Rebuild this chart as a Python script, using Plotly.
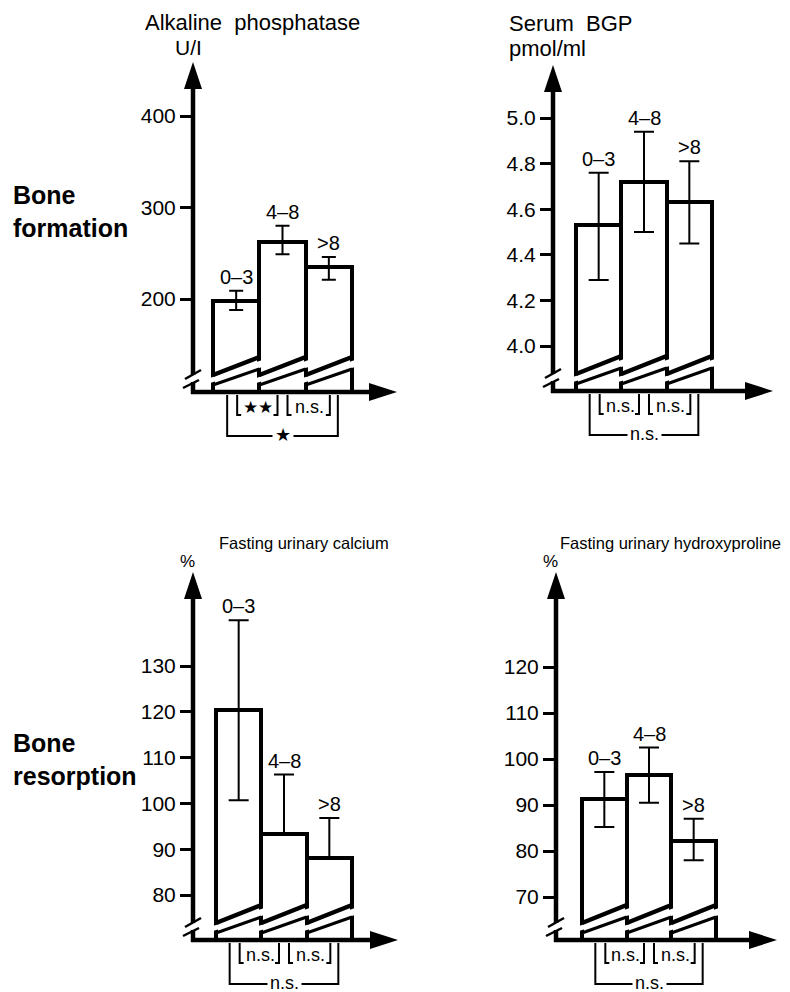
import plotly.graph_objects as go

# page body has an 8px margin: the figure is shifted so global pixel positions match
OFF = 8
W, H = 790 - OFF, 992 - OFF
FONT = "Liberation Sans"

# ---------------- data ----------------
groups = ["0–3", "4–8", ">8"]

alp_values = [198, 262, 235]
alp_plus = [11, 18, 11]
alp_minus = [10, 13, 14]
alp_ticks = [200, 300, 400]

bgp_values = [4.53, 4.72, 4.63]
bgp_plus = [0.23, 0.22, 0.18]
bgp_minus = [0.24, 0.22, 0.18]
bgp_ticks = [4.0, 4.2, 4.4, 4.6, 4.8, 5.0]

uca_values = [120.5, 93.3, 88.0]
uca_plus = [19.5, 13.0, 8.8]
uca_minus = [19.8, 0, 0]
uca_ticks = [80, 90, 100, 110, 120, 130]

hyp_values = [91.2, 96.5, 82.2]
hyp_plus = [6.0, 6.0, 4.8]
hyp_minus = [6.0, 6.0, 4.2]
hyp_ticks = [70, 80, 90, 100, 110, 120]

alp_sig = ["★★", "n.s.", "★"]
bgp_sig = ["n.s.", "n.s.", "n.s."]
uca_sig = ["n.s.", "n.s.", "n.s."]
hyp_sig = ["n.s.", "n.s.", "n.s."]

row_labels = ["Bone<br>formation", "Bone<br>resorption"]

# ---------------- layout geometry (pixels in the 790x992 window) ----------------
panels = [
    dict(title="Alkaline  phosphatase", unit="U/I", values=alp_values, plus=alp_plus, minus=alp_minus,
         ticks=alp_ticks, fmt="{:d}", sig=alp_sig, sig_size=(17, 18, 18),
         ax_x=193, ax_y=392, top=62, right=397, bar_l=213, bar_r=352, cal=(200, 299, 400, 116), cap=7,
         title_xy=(143, 22), title_size=22, unit_xy=(188, 47), unit_anchor="center", unit_size=21),
    dict(title="Serum  BGP", unit="pmol/ml", values=bgp_values, plus=bgp_plus, minus=bgp_minus,
         ticks=bgp_ticks, fmt="{:.1f}", sig=bgp_sig, sig_size=(18, 18, 18),
         ax_x=553, ax_y=391, top=65, right=773, bar_l=576, bar_r=712, cal=(4.0, 346, 5.0, 118), cap=10,
         title_xy=(507, 23), title_size=22, unit_xy=(507, 49), unit_anchor="left", unit_size=22),
    dict(title="Fasting urinary calcium", unit="%", values=uca_values, plus=uca_plus, minus=uca_minus,
         ticks=uca_ticks, fmt="{:d}", sig=uca_sig, sig_size=(18, 18, 18),
         ax_x=193, ax_y=940, top=572, right=398, bar_l=216, bar_r=352, cal=(80, 895, 130, 666), cap=10,
         title_xy=(217, 543), title_size=16.5, unit_xy=(187, 561), unit_anchor="center", unit_size=17),
    dict(title="Fasting urinary hydroxyproline", unit="%", values=hyp_values, plus=hyp_plus, minus=hyp_minus,
         ticks=hyp_ticks, fmt="{:d}", sig=hyp_sig, sig_size=(18, 18, 18),
         ax_x=556, ax_y=940, top=572, right=777, bar_l=582, bar_r=716, cal=(70, 897, 120, 667), cap=10,
         title_xy=(558, 543), title_size=16.5, unit_xy=(550, 561), unit_anchor="center", unit_size=17),
]


def P(px, py):
    return (px - OFF) / W, 1 - (py - OFF) / H


def line(p0, p1, w, color="black"):
    x0, y0 = P(*p0)
    x1, y1 = P(*p1)
    return dict(type="line", xref="paper", yref="paper", x0=x0, y0=y0, x1=x1, y1=y1,
                line=dict(color=color, width=w), layer="above")


def poly(points, fill=None, w=0, color="black", close=True):
    pts = [P(*q) for q in points]
    d = "M " + " L ".join(f"{x:.5f},{y:.5f}" for x, y in pts) + (" Z" if close else "")
    s = dict(type="path", xref="paper", yref="paper", path=d, layer="above",
             line=dict(color=color, width=w))
    s["fillcolor"] = fill if fill else "rgba(0,0,0,0)"
    return s


fig = go.Figure()
shapes = []
annotations = []
layout_axes = {}

for n, p in enumerate(panels, start=1):
    xa = "x" if n == 1 else f"x{n}"
    ya = "y" if n == 1 else f"y{n}"
    unit = (p["bar_r"] - p["bar_l"]) / 3
    xmin = -0.5 - (p["bar_l"] - p["ax_x"]) / unit
    xmax = 2.5 + (p["right"] - p["bar_r"]) / unit
    v1, py1, v2, py2 = p["cal"]
    k = (py1 - py2) / (v2 - v1)
    ymin = v1 - (p["ax_y"] - py1) / k
    ymax = v1 + (py1 - p["top"]) / k
    ax, ay = p["ax_x"], p["ax_y"]

    def xpix(xd, xmin=xmin, unit=unit, ax=ax):
        return ax + (xd - xmin) * unit

    xs = list(range(len(groups)))
    fig.add_trace(go.Bar(x=xs, y=p["values"], width=1, xaxis=xa, yaxis=ya,
                         marker=dict(color="white", line=dict(color="black", width=4)),
                         showlegend=False, hoverinfo="skip"))
    fig.add_trace(go.Scatter(x=xs, y=p["values"], mode="markers", xaxis=xa, yaxis=ya,
                             marker=dict(size=1, color="rgba(0,0,0,0)"),
                             error_y=dict(type="data", symmetric=False, array=p["plus"],
                                          arrayminus=p["minus"], color="black",
                                          thickness=2, width=p["cap"]),
                             showlegend=False, hoverinfo="skip"))

    pa, pb = P(ax, ay), P(p["right"], p["top"])
    layout_axes[f"xaxis{'' if n == 1 else n}"] = dict(
        domain=[pa[0], pb[0]], range=[xmin, xmax], anchor=ya,
        showgrid=False, zeroline=False, showline=False, showticklabels=False, ticks="")
    layout_axes[f"yaxis{'' if n == 1 else n}"] = dict(
        domain=[pa[1], pb[1]], range=[ymin, ymax], anchor=xa,
        tickvals=p["ticks"], ticktext=[p["fmt"].format(t) for t in p["ticks"]],
        ticks="outside", ticklen=12, tickwidth=2.5, tickcolor="black",
        showgrid=False, zeroline=False, showline=False,
        tickfont=dict(family=FONT, size=21, color="black"))

    # group labels above error bars
    for i, g in enumerate(groups):
        annotations.append(dict(x=i, y=p["values"][i] + p["plus"][i], xref=xa, yref=ya,
                                text=g, showarrow=False, xanchor="center", yanchor="bottom", yshift=1,
                                font=dict(family=FONT, size=20, color="black")))

    # axis-break marks inside bars
    for i in xs:
        xl, xr = xpix(i - 0.5), xpix(i + 0.5)
        upL, upR = ay - 17, ay - 35
        loL, loR = ay - 7, ay - 23
        shapes.append(poly([(xl - 3, loL - 2), (xr + 3, loR - 2), (xr + 3, upR + 3), (xl - 3, upL + 3)],
                           fill="white", w=0, color="white"))
        shapes.append(line((xl, upL), (xr, upR), 4.5))
        shapes.append(line((xl, loL), (xr, loR), 3))

    # axes with arrows
    shapes.append(line((ax, ay + 2), (ax, p["top"] + 20), 4.5))
    shapes.append(poly([(ax, p["top"]), (ax - 9, p["top"] + 27), (ax + 9, p["top"] + 27)], fill="black"))
    shapes.append(line((ax - 2, ay), (p["right"] - 20, ay), 4.5))
    shapes.append(poly([(p["right"], ay), (p["right"] - 28, ay - 9), (p["right"] - 28, ay + 9)], fill="black"))

    # y-axis break
    shapes.append(poly([(ax - 4, ay - 17), (ax + 4, ay - 17), (ax + 4, ay - 10), (ax - 4, ay - 10)],
                       fill="white", w=0, color="white"))
    shapes.append(line((ax - 8, ay - 13), (ax + 8, ay - 22), 2.5))
    shapes.append(line((ax - 10, ay - 4), (ax + 6, ay - 12), 2.5))

    # significance brackets
    c = [xpix(i) for i in xs]
    brackets = [(c[0] + 1, c[1] - 5, ay + 23, False),
                (c[1] + 5, c[2] + 1, ay + 23, False),
                (c[0] - 9, c[2] + 9, ay + 44, True)]
    for (xa0, xb0, yb, outer), lab, fs in zip(brackets, p["sig"], p["sig_size"]):
        if outer:
            shapes.append(poly([(xa0, ay + 3), (xa0, yb), (xb0, yb), (xb0, ay + 3)], w=2, close=False))
            tx, ty = P((xa0 + xb0) / 2, yb - 1)
            annotations.append(dict(x=tx, y=ty, xref="paper", yref="paper", text=lab, showarrow=False,
                                    xanchor="center", yanchor="middle", bgcolor="white", borderpad=2,
                                    font=dict(family=FONT, size=fs, color="black")))
        else:
            shapes.append(poly([(xa0 + 4, yb), (xa0, yb), (xa0, ay + 3)], w=2, close=False))
            shapes.append(poly([(xb0 - 4, yb), (xb0, yb), (xb0, ay + 3)], w=2, close=False))
            tx, ty = P((xa0 + xb0) / 2 + 1, yb - 8)
            annotations.append(dict(x=tx, y=ty, xref="paper", yref="paper", text=lab, showarrow=False,
                                    xanchor="center", yanchor="middle",
                                    font=dict(family=FONT, size=fs, color="black")))

    # titles
    tx, ty = P(*p["title_xy"])
    annotations.append(dict(x=tx, y=ty, xref="paper", yref="paper", text=p["title"], showarrow=False,
                            xanchor="left", yanchor="middle",
                            font=dict(family=FONT, size=p["title_size"], color="black")))
    ux, uy = P(*p["unit_xy"])
    annotations.append(dict(x=ux, y=uy, xref="paper", yref="paper", text=p["unit"], showarrow=False,
                            xanchor=p["unit_anchor"], yanchor="middle",
                            font=dict(family=FONT, size=p["unit_size"], color="black")))

# row labels
for lab, cy in zip(row_labels, [211, 759]):
    x, y = P(11, cy)
    annotations.append(dict(x=x, y=y, xref="paper", yref="paper", text=f"<b>{lab}</b>", showarrow=False,
                            xanchor="left", yanchor="middle", align="left",
                            font=dict(family=FONT, size=25, color="black")))

fig.update_layout(width=W, height=H, margin=dict(l=0, r=0, t=0, b=0), autosize=False,
                  paper_bgcolor="white", plot_bgcolor="white", bargap=0,
                  shapes=shapes, annotations=annotations, **layout_axes)

fig.write_html("out.html")
